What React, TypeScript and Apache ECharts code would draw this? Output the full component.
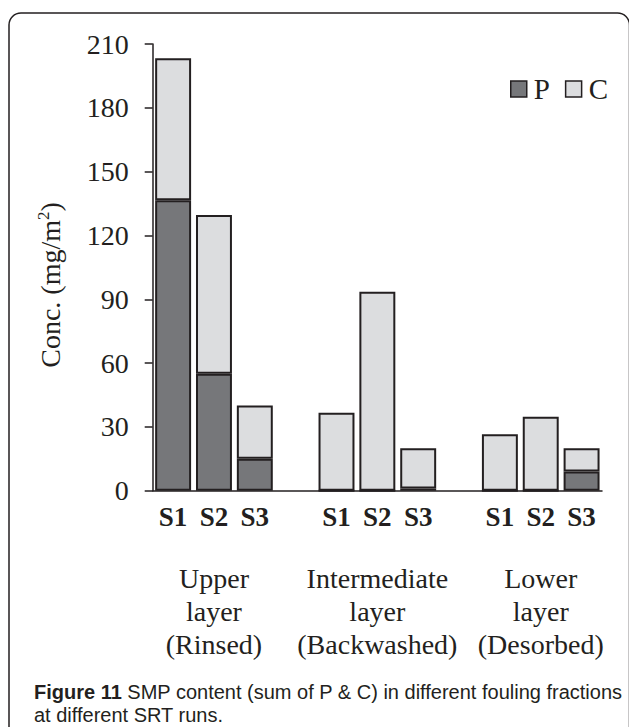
import React, { useEffect, useRef } from "react";
import * as echarts from "echarts";

const categories = ["S1", "S2", "S3", "", "S1", "S2", "S3", "", "S1", "S2", "S3"];
const groupNames = ["Upper\nlayer\n(Rinsed)", "Intermediate\nlayer\n(Backwashed)", "Lower\nlayer\n(Desorbed)"];
const groupCenterIndex = [1, 5, 9];
const pValues = [136.5, 55, 15, null, 0, 0, 1, null, 0, 0, 9];
const cValues = [66.8, 74.6, 25, null, 36.7, 93.5, 19, null, 26.5, 34.8, 11];
const yTicks = { min: 0, max: 210, interval: 30 };

const INK = "#231f20";
const P_COLOR = "#76777a";
const C_COLOR = "#dcdddf";
const SERIF = "Liberation Serif";

export default function App() {
  const ref = useRef<HTMLDivElement>(null);
  useEffect(() => {
    if (!ref.current) return;
    const chart = echarts.init(ref.current, null, { renderer: "svg" });
    const groupAxisData = categories.map((_, i) => {
      const g = groupCenterIndex.indexOf(i);
      return g >= 0 ? groupNames[g] : "";
    });
    chart.setOption({
      animation: false,
      backgroundColor: "#ffffff",
      grid: { left: 152.7, right: 27, top: 44, bottom: 236.3, containLabel: false },
      legend: {
        data: ["P", "C"],
        left: 505,
        top: 69,
        icon: "rect",
        itemWidth: 16,
        itemHeight: 16,
        itemGap: 15,
        textStyle: { fontFamily: SERIF, fontSize: 29, color: INK, lineHeight: 30, padding: [0, 0, 0, 2] },
        itemStyle: { borderColor: INK, borderWidth: 1.5 },
      },
      xAxis: [
        {
          type: "category",
          data: categories,
          axisLine: { show: true, lineStyle: { color: INK, width: 1.5 } },
          axisTick: { show: false },
          axisLabel: {
            interval: 0,
            margin: 13,
            fontFamily: SERIF,
            fontWeight: "bold",
            fontSize: 27,
            color: INK,
          },
        },
        {
          type: "category",
          data: groupAxisData,
          position: "bottom",
          axisLine: { show: false },
          axisTick: { show: false },
          axisLabel: {
            interval: 0,
            margin: 71,
            fontFamily: SERIF,
            fontSize: 28,
            lineHeight: 33,
            color: INK,
          },
        },
      ],
      yAxis: {
        type: "value",
        min: yTicks.min,
        max: yTicks.max,
        interval: yTicks.interval,
        splitLine: { show: false },
        axisLine: { show: true, lineStyle: { color: INK, width: 1.5 } },
        axisTick: { show: true, length: 8, lineStyle: { color: INK, width: 1.5 } },
        axisLabel: { margin: 24, fontFamily: SERIF, fontSize: 28, color: INK },
      },
      series: [
        {
          name: "P",
          type: "bar",
          stack: "total",
          xAxisIndex: 0,
          data: pValues,
          barWidth: "88%",
          itemStyle: { color: P_COLOR, borderColor: INK, borderWidth: 2 },
        },
        {
          name: "C",
          type: "bar",
          stack: "total",
          xAxisIndex: 0,
          data: cValues,
          barWidth: "88%",
          itemStyle: { color: C_COLOR, borderColor: INK, borderWidth: 2 },
        },
      ],
      graphic: [
        {
          type: "rect",
          shape: { x: 9, y: 13, width: 620.5, height: 800, r: 12 },
          style: { fill: "none", stroke: INK, lineWidth: 1.5 },
          silent: true,
        },
        {
          type: "text",
          x: 50,
          y: 285,
          rotation: Math.PI / 2,
          style: {
            text: "{a|Conc. (mg/m}{s|2}{a|)}",
            align: "center",
            verticalAlign: "middle",
            fill: INK,
            rich: {
              a: { fontFamily: SERIF, fontSize: 28, fill: INK, lineHeight: 30 },
              s: { fontFamily: SERIF, fontSize: 17, fill: INK, lineHeight: 30, verticalAlign: "top", padding: [0, 0, 12, 0] },
            },
          },
        },
        {
          type: "text",
          x: 34,
          y: 680,
          style: {
            text: "{b|Figure 11} SMP content (sum of P & C) in different fouling fractions\nat different SRT runs.",
            fontFamily: "Liberation Sans",
            fontSize: 20,
            lineHeight: 23,
            fill: INK,
            verticalAlign: "top",
            rich: {
              b: { fontFamily: "Liberation Sans", fontSize: 20, fontWeight: "bold", fill: INK, lineHeight: 23 },
            },
          },
        },
      ],
    });
    return () => chart.dispose();
  }, []);
  return <div ref={ref} style={{ position: "fixed", left: 0, top: 0, width: 629, height: 727 }} />;
}
